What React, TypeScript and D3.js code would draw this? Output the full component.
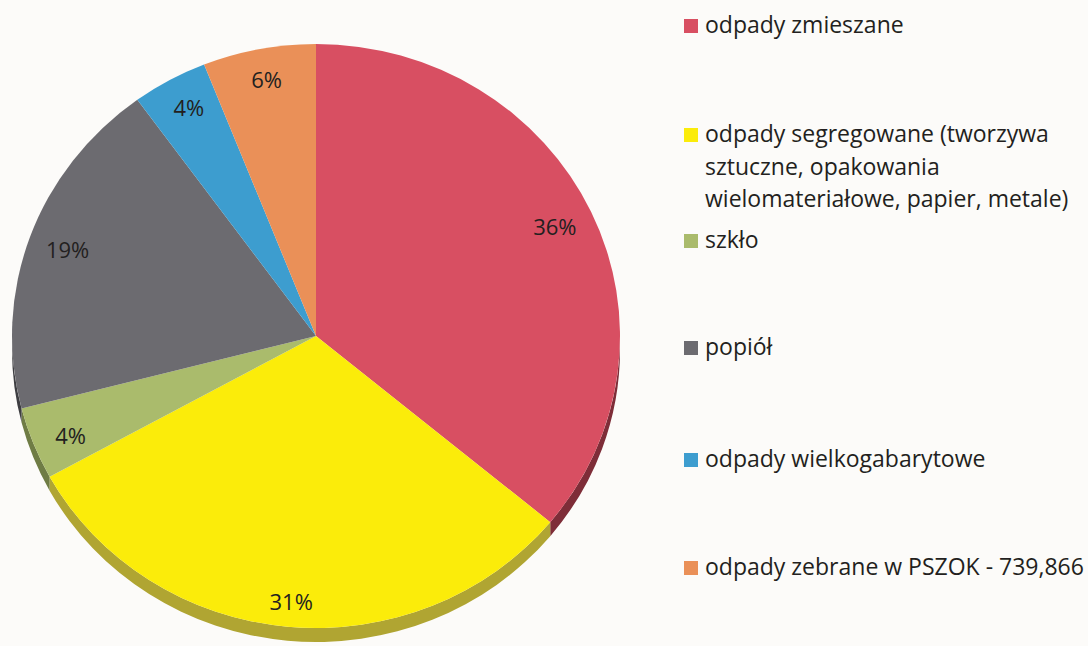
import React from "react";
import * as d3 from "d3";

const categories = [
  "odpady zmieszane",
  "odpady segregowane (tworzywa sztuczne, opakowania wielomateriałowe, papier, metale)",
  "szkło",
  "popiół",
  "odpady wielkogabarytowe",
  "odpady zebrane w PSZOK - 739,866",
];
const legendLines = [
  ["odpady zmieszane"],
  ["odpady segregowane (tworzywa", "sztuczne, opakowania", "wielomateriałowe, papier, metale)"],
  ["szkło"],
  ["popiół"],
  ["odpady wielkogabarytowe"],
  ["odpady zebrane w PSZOK - 739,866"],
];
const values = [36, 31, 4, 19, 4, 6];
const labels = ["36%", "31%", "4%", "19%", "4%", "6%"];
const colors = ["#d84f62", "#fbec0a", "#aabb6c", "#6c6b70", "#3d9dcf", "#ea9058"];
const sideColors = ["#7e2d38", "#b0a532", "#6f7c45", "#3e3e42", "#22648a", "#9a5a34"];
const legendBaselines = [33, 142, 248, 355, 467, 575];

const W = 1088;
const H = 646;
const cx = 316;
const cy = 336;
const rx = 304;
const ry = 292;
const depth = 14;
const k = ry / rx;

export default function App() {
  const pie = d3.pie<number>().value((d) => d).sort(null);
  const arcs = pie(values);
  const arcGen = d3.arc<d3.PieArcDatum<number>>().innerRadius(0).outerRadius(rx);

  const dScaled = depth / k;
  const walls = arcs.map((a, i) => {
    const lo = Math.max(a.startAngle, Math.PI / 2);
    const hi = Math.min(a.endAngle, (3 * Math.PI) / 2);
    if (hi <= lo) return null;
    const t0 = lo - Math.PI / 2;
    const t1 = hi - Math.PI / 2;
    const p = d3.path();
    p.moveTo(rx * Math.cos(t0), rx * Math.sin(t0));
    p.arc(0, 0, rx, t0, t1, false);
    p.lineTo(rx * Math.cos(t1), rx * Math.sin(t1) + dScaled);
    p.arc(0, dScaled, rx, t1, t0, true);
    p.closePath();
    return { d: p.toString(), i };
  });

  const labelR = 264;
  const font = "'Open Sans', 'Noto Sans', sans-serif";

  return (
    <svg width={W} height={H} style={{ position: "absolute", left: 0, top: 0, background: "#fcfbf9" }}>
      <rect x={0} y={0} width={W} height={H} fill="#fcfbf9" />
      <g transform={`translate(${cx},${cy}) scale(1,${k})`}>
        {walls.map((w) =>
          w ? <path key={"w" + w.i} d={w.d} fill={sideColors[w.i]} /> : null
        )}
        {arcs.map((a, i) => (
          <path key={i} d={arcGen(a) || ""} fill={colors[i]} />
        ))}
      </g>
      {arcs.map((a, i) => {
        const m = (a.startAngle + a.endAngle) / 2;
        const x = cx + labelR * Math.sin(m);
        const y = cy + 2 - labelR * Math.cos(m);
        return (
          <text
            key={"l" + i}
            x={x}
            y={y}
            textAnchor="middle"
            dominantBaseline="central"
            fontFamily={font}
            fontSize={22}
            fill="#231f20"
          >
            {labels[i]}
          </text>
        );
      })}
      {categories.map((c, i) => (
        <g key={"lg" + i}>
          <rect x={684} y={legendBaselines[i] - 14} width={14} height={14} fill={colors[i]} />
          <text
            x={705}
            y={legendBaselines[i]}
            fontFamily={font}
            fontSize={23}
            fill="#231f20"
          >
            {legendLines[i].map((ln, j) => (
              <tspan key={j} x={705} dy={j === 0 ? 0 : 32.5}>
                {ln}
              </tspan>
            ))}
          </text>
        </g>
      ))}
    </svg>
  );
}
